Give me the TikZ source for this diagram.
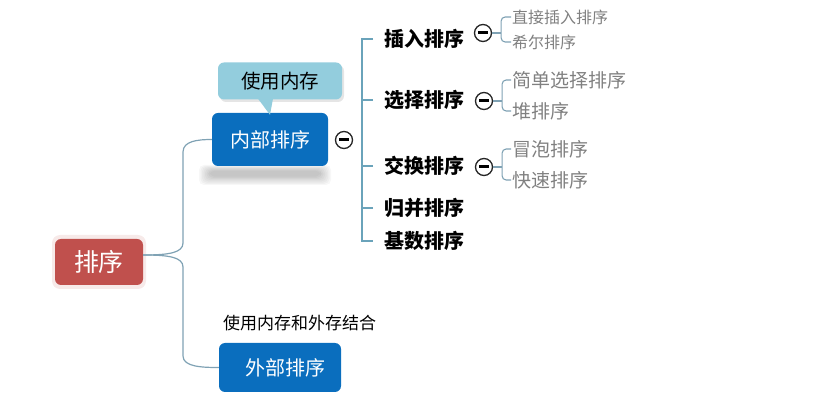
\documentclass[tikz,border=0pt]{standalone}
\usepackage{fontspec}
\setmainfont{Noto Sans CJK SC}
\definecolor{rootred}{HTML}{C0504D}
\definecolor{mainblue}{HTML}{0A6EBE}
\definecolor{callblue}{HTML}{93CDDD}
\definecolor{conncol}{HTML}{7FA2B4}
\definecolor{trunkcol}{HTML}{6AA3BA}
\definecolor{leafgray}{HTML}{808080}
\tikzset{
  rootbox/.style={rectangle, rounded corners=6pt, fill=rootred, text=white,
    minimum width=88pt, minimum height=46pt, inner sep=0pt,
    font=\fontsize{25}{30}\selectfont},
  mainbox/.style={rectangle, rounded corners=6pt, fill=mainblue, text=white,
    inner sep=0pt, font=\fontsize{20}{24}\selectfont},
  callbox/.style={rectangle, rounded corners=6pt, fill=callblue, text=black,
    minimum width=124pt, minimum height=37pt, inner sep=0pt,
    font=\fontsize{19.5}{22}\selectfont},
  childtxt/.style={anchor=west, inner sep=0pt, text=black,
    font=\bfseries\fontsize{20}{23}\selectfont},
  leafbig/.style={anchor=west, inner sep=0pt, text=leafgray,
    font=\fontsize{19}{22}\selectfont},
  leafsmall/.style={anchor=west, inner sep=0pt, text=leafgray,
    font=\fontsize{16}{19}\selectfont},
  notetxt/.style={anchor=west, inner sep=0pt, text=black,
    font=\fontsize{17}{20}\selectfont},
  toggle/.style={circle, draw=black!85, line width=1.3pt, fill=white,
    minimum size=17pt, inner sep=0pt,
    path picture={\draw[line width=3pt, black]
      ([xshift=-5pt]path picture bounding box.center) --
      ([xshift=5pt]path picture bounding box.center);}},
  conn/.style={draw=conncol, line width=1.2pt},
  trunk/.style={draw=trunkcol, line width=1.2pt},
  brk/.style={draw=conncol, line width=1.1pt, rounded corners=4pt},
}
\begin{document}
\begin{tikzpicture}[x=1pt,y=-1pt]
\useasboundingbox (0,0) rectangle (823,403);

% soft shadow under inner box
\foreach \i in {0,...,7}{
  \fill[black, opacity=0.03, rounded corners=5pt]
    (199+1.5*\i,165+0.8*\i) rectangle (331-1.5*\i,185-1.2*\i);
}
% glow around root
\fill[rootred, opacity=0.12, rounded corners=8pt] (52,235) rectangle (146,289);

% nodes
\node[rootbox] (root) at (99,262) {排序};
\fill[black, opacity=0.10, rounded corners=6pt] (220,65) rectangle (344,102);
\node[callbox] (call) at (280,81) {使用内存};
\node[mainbox, minimum width=116pt, minimum height=53pt] (inner) at (270,139.5) {内部排序};
\fill[callblue] ([xshift=-22pt,yshift=1pt]call.south) -- ([yshift=-2pt]inner.north) -- ([xshift=-7pt,yshift=1pt]call.south) -- cycle;
\node[mainbox, minimum width=122pt, minimum height=49pt] (outer) at (280,367.5) {\hspace*{10pt}外部排序};
\node[notetxt] (note) at (223,323) {使用内存和外存结合};

\node[toggle] (t0) at (344,140) {};

% children
\node[childtxt] (c1) at (384,39) {插入排序};
\node[childtxt] (c2) at (384,100) {选择排序};
\node[childtxt] (c3) at (384,166) {交换排序};
\node[childtxt] (c4) at (384,208) {归并排序};
\node[childtxt] (c5) at (384,241) {基数排序};

\node[toggle] (t1) at (483,33) {};
\node[toggle] (t2) at (484,101) {};
\node[toggle] (t3) at (484,167) {};

% leaves
\node[leafsmall] (g1) at (512,17) {直接插入排序};
\node[leafsmall] (g2) at (512,42) {希尔排序};
\node[leafbig] (g3) at (512,80) {简单选择排序};
\node[leafbig] (g4) at (512,111) {堆排序};
\node[leafbig] (g5) at (512,149) {冒泡排序};
\node[leafbig] (g6) at (512,180) {快速排序};

% main connectors
\coordinate (s) at ([yshift=7pt]root.east);
\coordinate (ju) at (183,243);
\coordinate (jut) at (183,152);
\coordinate (jd) at (183,267);
\coordinate (jdb) at (183,356);
\draw[conn] (s) .. controls +(25,0) and +(0,10) .. (ju) -- (jut)
  .. controls +(0,-11) and +(-14,0) .. (inner.west);
\draw[conn] (s) .. controls +(25,0) and +(0,-10) .. (jd) -- (jdb)
  .. controls +(0,11) and +(-16,0) .. (outer.west);

% children trunk
\coordinate (k1) at ([xshift=-11pt]c1.west);
\coordinate (k5) at ([xshift=-11pt]c5.west);
\draw[trunk] (k1) -- ++(-11,0) |- (k5);
\foreach \c in {c2,c3,c4}{
  \draw[trunk] ([xshift=-11pt]\c.west) -- ++(-11,0);
}

% leaf brackets
\foreach \t/\a/\b in {t1/g1/g2, t2/g3/g4, t3/g5/g6}{
  \coordinate (b) at ([xshift=9pt]\t.east);
  \draw[conn, line width=1.1pt] (\t.east) -- (b);
  \draw[brk] ([xshift=-1pt]\a.west) -| (b) |- ([xshift=-1pt]\b.west);
}
\end{tikzpicture}
\end{document}
